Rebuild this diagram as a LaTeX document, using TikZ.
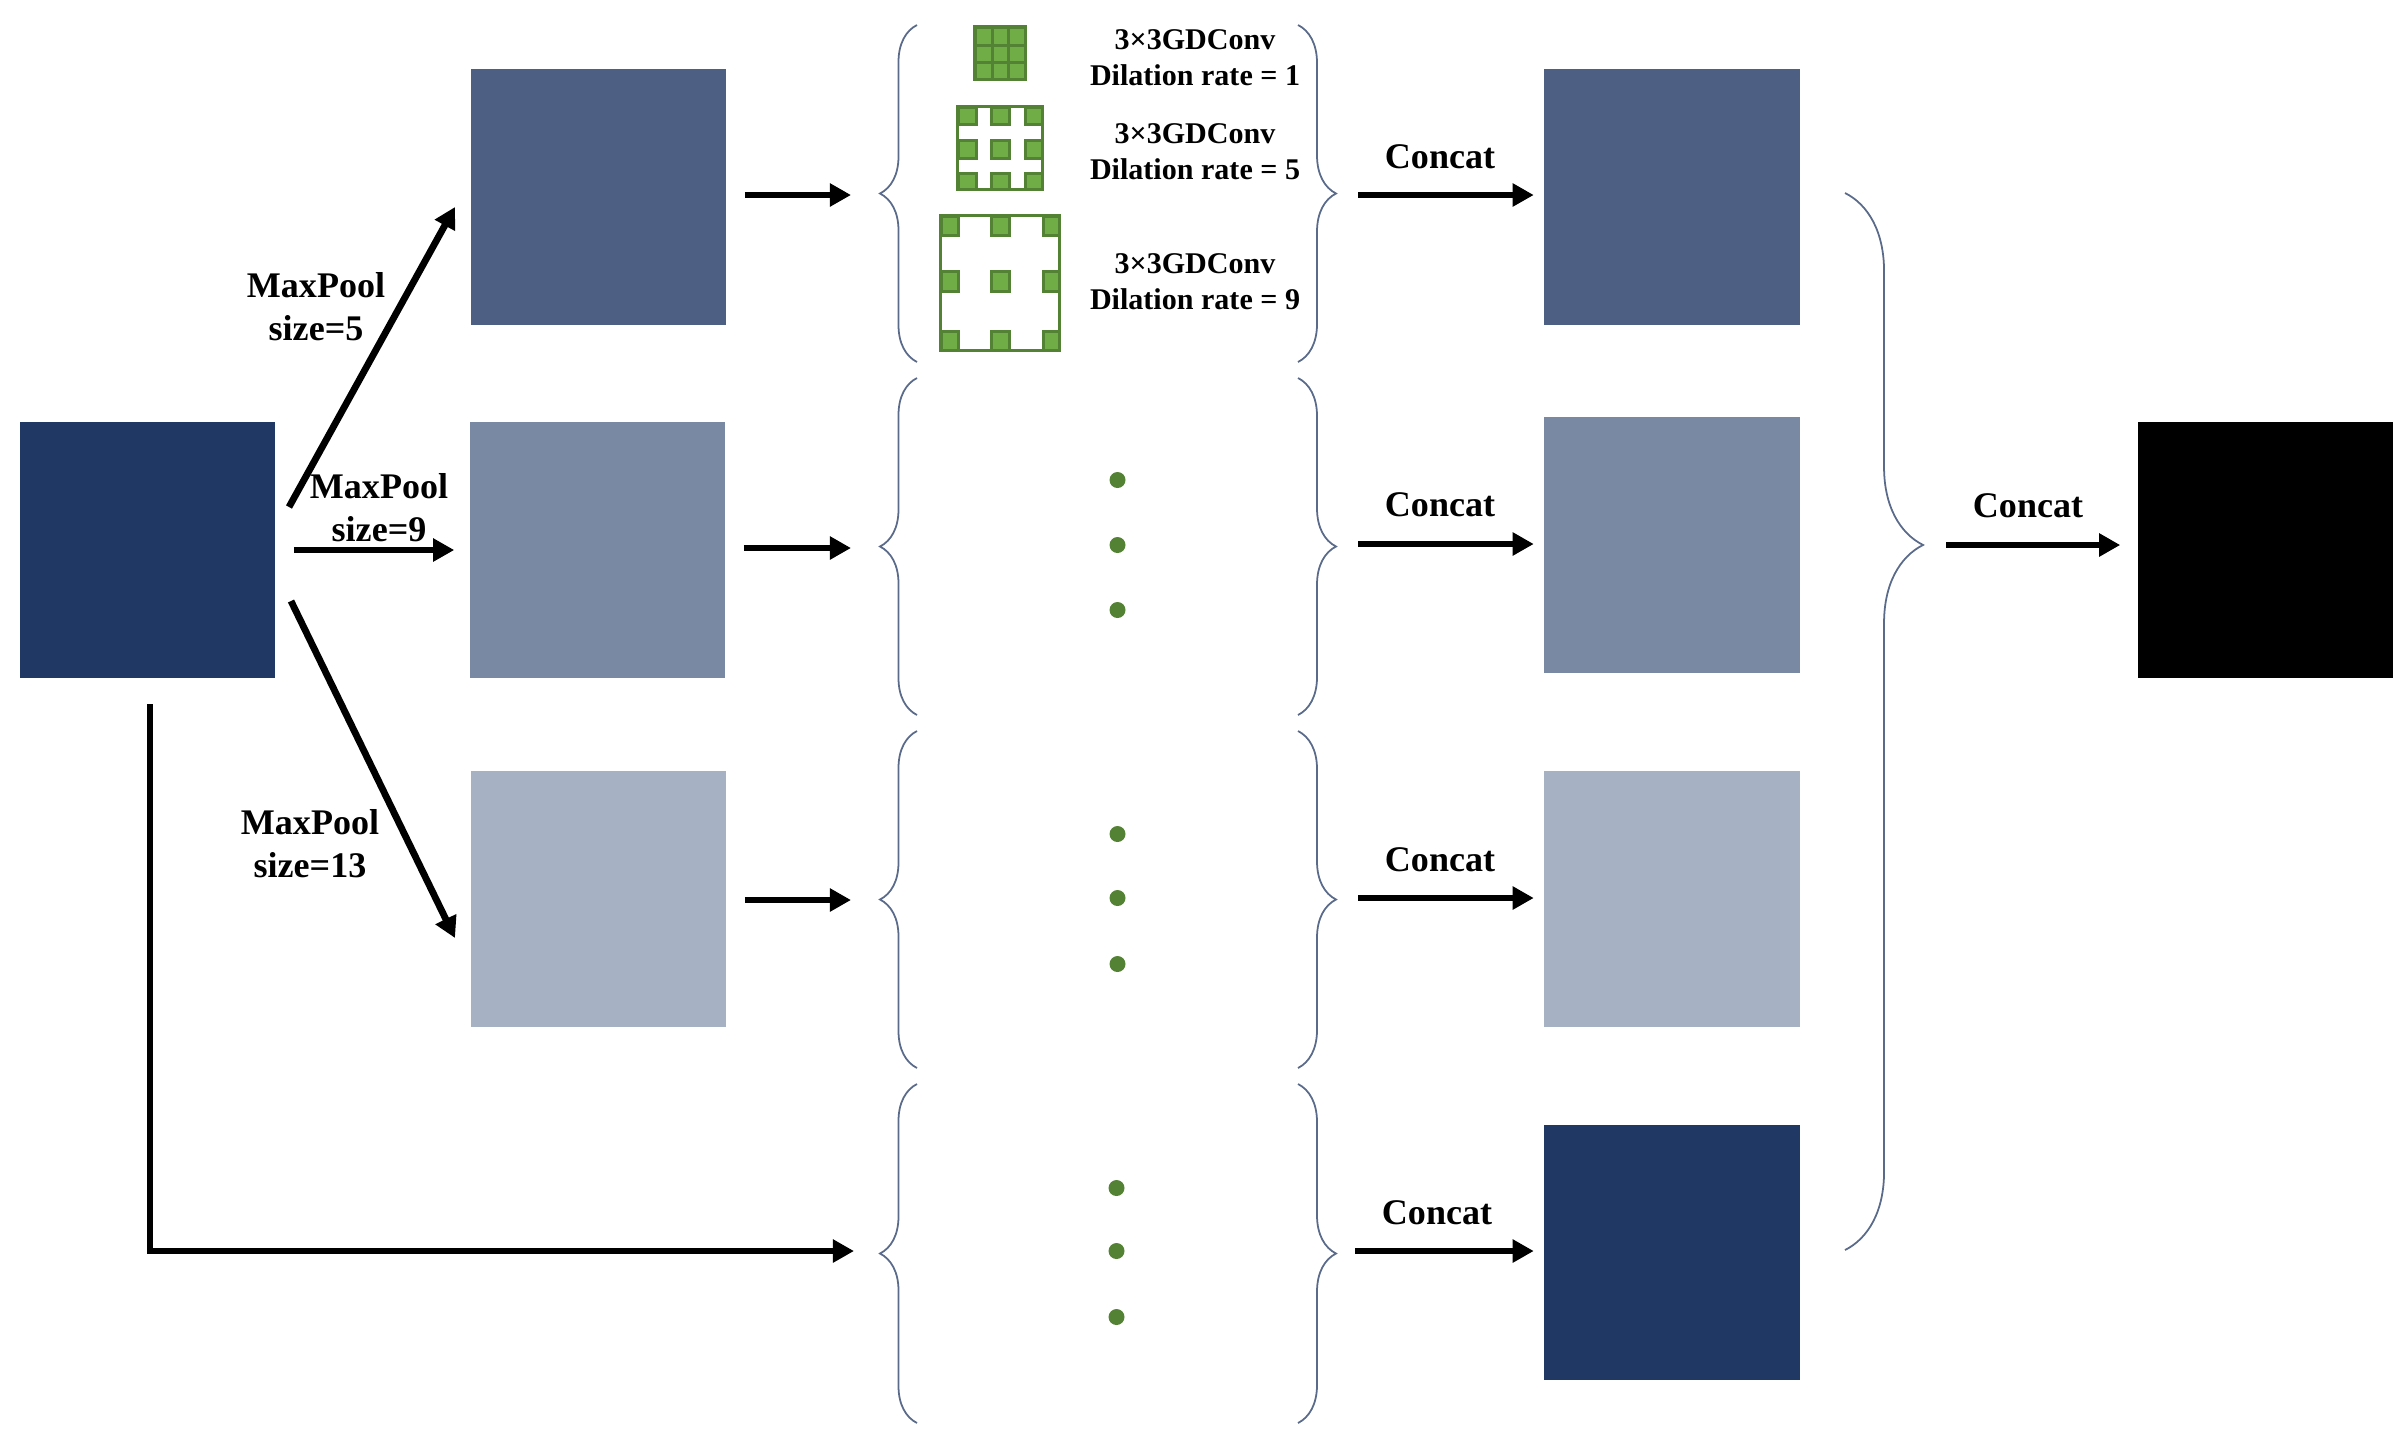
\documentclass[tikz,border=0pt]{standalone}
\usepackage{fontspec}
\setmainfont{Liberation Serif}
\usepackage{xcolor}
\usetikzlibrary{arrows.meta,decorations.pathreplacing}
\definecolor{deepblue}{HTML}{1F3864}
\definecolor{midblue}{HTML}{4D5F82}
\definecolor{paleblue}{HTML}{7A89A3}
\definecolor{mistblue}{HTML}{A7B1C4}
\definecolor{bracegray}{HTML}{5A6A8A}
\definecolor{cellgreen}{HTML}{70AD47}
\definecolor{darkgreen}{HTML}{548235}
\tikzset{
  featmap/.style={minimum size=2.55cm,inner sep=0pt},
  conn/.style={line width=0.068cm,-{Triangle[length=0.21cm,width=0.22cm]}},
  lab/.style={align=center,inner sep=0pt,font=\fontsize{10.25}{12.2}\selectfont\bfseries},
  kernlab/.style={align=center,inner sep=0pt,font=\fontsize{8.55}{10.2}\selectfont\bfseries},
  curly/.style={decorate,decoration={brace,amplitude=#1},bracegray,line width=0.5pt},
  cell/.style={draw=darkgreen,fill=cellgreen,line width=0.03cm},
  frame/.style={draw=darkgreen,line width=0.035cm},
  gdot/.style={circle,fill=darkgreen,minimum size=0.16cm,inner sep=0pt}
}
\begin{document}
\begin{tikzpicture}[x=0.01cm,y=-0.01cm]
  \useasboundingbox (0,0) rectangle (2407,1439);
  % feature maps
  \node[featmap,fill=deepblue] (input) at (147.5,550) {};
  \node[featmap,fill=midblue] (poola) at (598.5,197) {};
  \node[featmap,fill=paleblue] (poolb) at (597.5,550) {};
  \node[featmap,fill=mistblue] (poolc) at (598.5,899) {};
  \node[featmap,fill=midblue] (cata) at (1672,197) {};
  \node[featmap,fill=paleblue] (catb) at (1672,545) {};
  \node[featmap,fill=mistblue] (catc) at (1672,899) {};
  \node[featmap,fill=deepblue] (catd) at (1672,1252.5) {};
  \node[featmap,fill=black] (output) at (2265.5,550) {};

  % braces
  \foreach \i/\ya/\yb/\ytip/\yarr in {1/25/362/193/195,2/378/715/545/548,3/731/1068/898/900,4/1084/1423/1251/1251}{
    \draw[curly=0.37cm] (917,\yb)--(917,\ya);
    \draw[curly=0.38cm] (1298,\ya)--(1298,\yb);
    \coordinate (lefttip\i) at (880,\yarr);
  }
  \draw[curly=0.78cm,decoration={aspect=0.333}] (1845,193)--(1845,1250);
  \coordinate (bigtip) at (1923,545);

  % kernels
  \node[frame,minimum width=0.5cm,minimum height=0.52cm,inner sep=0pt] (kernela) at (1000,53) {};
  \foreach \xa/\xb in {975/992,992/1008,1008/1025}
    \foreach \ya/\yb in {27/45,45/62,62/79}
      \draw[cell] (\xa,\ya) rectangle (\xb,\yb);
  \node[frame,minimum width=0.85cm,minimum height=0.83cm,inner sep=0pt] (kernelb) at (1000,148) {};
  \foreach \xa/\xb in {958/976,991/1009,1025/1042}
    \foreach \ya/\yb in {107/124,140/158,173/189}
      \draw[cell] (\xa,\ya) rectangle (\xb,\yb);
  \node[frame,minimum width=1.19cm,minimum height=1.35cm,inner sep=0pt] (kernelc) at (1000,283) {};
  \foreach \xa/\xb in {941/958,991/1009,1043/1059}
    \foreach \ya/\yb in {216/235,271/291,331/350}
      \draw[cell] (\xa,\ya) rectangle (\xb,\yb);
  \node[kernlab] (gda) at (1195,58) {3×3GDConv\\Dilation rate = 1};
  \node[kernlab] (gdb) at (1195,152) {3×3GDConv\\Dilation rate = 5};
  \node[kernlab] (gdc) at (1195,282) {3×3GDConv\\Dilation rate = 9};

  % dots
  \foreach \i/\x/\y in {1/1117.5/480,2/1117.5/545,3/1117.5/610,4/1117.5/834,5/1117.5/898,6/1117.5/964,7/1116.5/1188,8/1116.5/1251,9/1116.5/1317}
    \node[gdot] (dot\i) at (\x,\y) {};

  % max pooling arrows
  \coordinate (upfrom) at (289,507);
  \coordinate (upto) at (455,207);
  \coordinate (downfrom) at (291,601);
  \coordinate (downto) at (455,938);
  \draw[conn] (upfrom)--(upto);
  \draw[conn,shorten <=0.18cm,shorten >=0.15cm] (input.east)--(poolb.west);
  \draw[conn] (downfrom)--(downto);
  \draw[conn,shorten <=0.26cm,shorten >=0.26cm] ([xshift=0.025cm]input.south)--([xshift=0.025cm]input.south |- lefttip4)--(lefttip4);
  \node[lab] (poolfive) at (316,307) {MaxPool\\size=5};
  \node[lab] (poolnine) at (379,508) {MaxPool\\size=9};
  \node[lab] (poolthirteen) at (310,844) {MaxPool\\size=13};

  % arrows into the braces
  \foreach \n/\i in {poola/1,poolb/2,poolc/3}
    \draw[conn,shorten <=0.18cm,shorten >=0.29cm] (\n.east |- lefttip\i)--(lefttip\i);

  % concat arrows
  \foreach \n/\i/\xs/\xl/\yl/\ys in {cata/1/1358/1440/157/195,catb/2/1358/1440/505/544,catc/3/1358/1440/860/898,catd/4/1355/1437/1213/1251}{
    \coordinate (catfrom\i) at (\xs,\ys);
    \draw[conn,shorten >=0.1cm] (catfrom\i)--(\n.west |- catfrom\i);
    \node[lab] (catlab\i) at (\xl,\yl) {Concat};
  }
  \draw[conn,shorten <=0.23cm,shorten >=0.17cm] (bigtip)--(output.west |- bigtip);
  \node[lab] (catlab5) at (2028,506) {Concat};
\end{tikzpicture}
\end{document}
